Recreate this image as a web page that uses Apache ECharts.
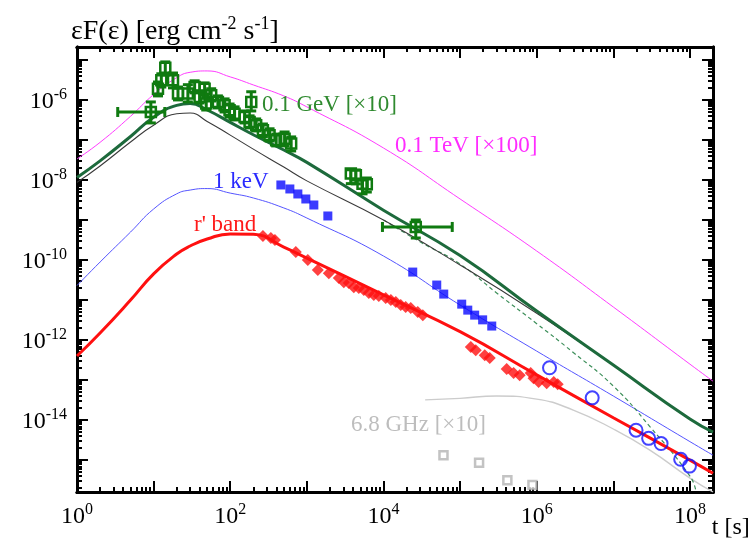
<!DOCTYPE html>
<html>
<head>
<meta charset="utf-8">
<script src="https://cdn.jsdelivr.net/npm/echarts@6/dist/echarts.min.js"></script>
<style>
  html, body { margin: 0; padding: 0; background: #fff; }
  #chart { width: 754px; height: 543px; }
</style>
</head>
<body>
<div id="chart"></div>
<script>
// ---- model light curves, t in seconds, flux in erg cm^-2 s^-1 ----
const modelT    = [1, 2, 5, 10, 20, 30, 50, 100, 200, 500, 1e3, 1e4, 1e5, 1e6, 1e7, 1e8, 2e8];
const tevModel  = [3.35e-8, 8.7e-8, 3.9e-7, 1.36e-6, 3.6e-6, 4.9e-6, 5.3e-6, 3.76e-6, 2.37e-6, 1.26e-6, 6.7e-7, 6.3e-8, 3.35e-9, 1.68e-10, 6.7e-12, 2.5e-13, 9.4e-14];
const gevModel  = [1.15e-8, 3.0e-8, 1.22e-7, 3.7e-7, 7.3e-7, 8.1e-7, 5.6e-7, 2.75e-7, 1.35e-7, 5.6e-8, 2.75e-8, 1.76e-9, 1.29e-10, 5.3e-12, 2.37e-13, 1.06e-14, 5.0e-15];
const gevBare   = [8.7e-9, 2.24e-8, 8.9e-8, 2.34e-7, 4.5e-7, 4.7e-7, 2.9e-7, 1.32e-7, 5.9e-8, 2.1e-8, 9.5e-9, 1.0e-9, 7.5e-11, 4.7e-12, 2.37e-13, 1.06e-14, 5.0e-15];
const kevModel  = [2.3e-11, 8.9e-11, 5.0e-10, 1.88e-9, 4.5e-9, 5.6e-9, 6.1e-9, 4.7e-9, 3.55e-9, 2.0e-9, 1.12e-9, 1.26e-10, 7.5e-12, 5.3e-13, 4.0e-14, 2.9e-15, 1.33e-15];
const optModel  = [4.0e-13, 1.5e-12, 1.0e-11, 4.5e-11, 1.41e-10, 2.24e-10, 3.35e-10, 4.5e-10, 4.4e-10, 2.1e-10, 1.12e-10, 1.35e-11, 1.62e-12, 1.35e-13, 1.15e-14, 1.0e-15, 4.7e-16];

// steeper GeV branch (dashed)
const gevSteepT = [1e4, 3e4, 1e5, 3e5, 1e6, 3e6, 1e7, 3e7, 1e8, 1.2e8];
const gevSteepF = [1.0e-9, 2.85e-10, 7.9e-11, 1.5e-11, 2.57e-12, 4.9e-13, 7.1e-14, 6.9e-15, 4.0e-16, 1.66e-16];

// radio model
const radioT = [3.5e4, 1e5, 3e5, 1e6, 3e6, 1e7, 3e7, 1e8, 2e8];
const radioF = [3.2e-14, 3.5e-14, 4.0e-14, 3.35e-14, 1.78e-14, 6.0e-15, 1.78e-15, 3.55e-16, 1.6e-16];

// ---- observed points ----
// 0.1 GeV: time, flux, lower, upper, time-lower, time-upper
const gevT  = [9.2, 14.2, 12.6, 11.4, 17.9, 20.8, 28, 34.3, 39.8, 46.3, 48.6, 56.4, 69, 84.4, 98, 114, 188, 154, 179, 218, 267, 326, 398, 512, 624, 3750, 4360, 5330, 6060, 2.64e4];
const gevF  = [5.0e-7, 6.4e-6, 3.1e-6, 1.9e-6, 3.1e-6, 1.45e-6, 1.45e-6, 2.1e-6, 1.19e-6, 1.9e-6, 8.1e-7, 1.3e-6, 8.9e-7, 7.4e-7, 5.5e-7, 4.5e-7, 8.9e-7, 3.76e-7, 2.8e-7, 2.34e-7, 1.75e-7, 1.31e-7, 9.8e-8, 1.07e-7, 8.1e-8, 1.45e-8, 1.32e-8, 8.1e-9, 7.8e-9, 6.7e-10];
const gevLo = [2.66e-7, 4.2e-6, 2.1e-6, 1.26e-6, 2.0e-6, 1.0e-6, 8.9e-7, 1.5e-6, 8.4e-7, 1.33e-6, 5.6e-7, 9.4e-7, 6.3e-7, 5.0e-7, 3.75e-7, 3.16e-7, 5.3e-7, 2.66e-7, 2.0e-7, 1.68e-7, 1.19e-7, 9.4e-8, 7.1e-8, 7.1e-8, 5.3e-8, 8.1e-9, 8.0e-9, 4.5e-9, 5.0e-9, 3.55e-10];
const gevHi = [8.9e-7, 8.9e-6, 4.5e-6, 2.8e-6, 4.7e-6, 2.1e-6, 2.4e-6, 3.0e-6, 1.7e-6, 2.66e-6, 1.19e-6, 1.9e-6, 1.26e-6, 1.06e-6, 7.9e-7, 6.7e-7, 1.6e-6, 5.3e-7, 4.0e-7, 3.35e-7, 2.5e-7, 1.9e-7, 1.4e-7, 1.58e-7, 1.19e-7, 1.8e-8, 1.78e-8, 1.0e-8, 1.12e-8, 1.0e-9];
const gevTLo = [3.4, 14.2, 12.6, 11.4, 17.9, 20.8, 28, 34.3, 39.8, 46.3, 48.6, 56.4, 69, 84.4, 98, 114, 188, 154, 179, 218, 267, 326, 398, 512, 624, 3750, 4360, 5330, 6060, 9700];
const gevTHi = [14, 14.2, 12.6, 11.4, 17.9, 20.8, 28, 34.3, 39.8, 46.3, 48.6, 56.4, 69, 84.4, 98, 114, 188, 154, 179, 218, 267, 326, 398, 512, 624, 3750, 4360, 5330, 6060, 7.9e4];

// 1 keV X-ray
const kevT = [458, 600, 763, 970, 1234, 1879, 2.41e4, 4.96e4, 6.12e4, 1.05e5, 1.26e5, 1.55e5, 1.97e5, 2.59e5];
const kevF = [7.5e-9, 5.96e-9, 4.47e-9, 3.35e-9, 2.37e-9, 1.26e-9, 5.0e-11, 2.37e-11, 1.41e-11, 7.9e-12, 5.6e-12, 4.2e-12, 3.2e-12, 2.24e-12];

// r' band optical
const optT = [267, 339, 383, 718, 1030, 1391, 1935, 2614, 3036, 3528, 4100, 4766, 5540, 6440, 7480, 8690, 1.07e4, 1.25e4, 1.45e4, 1.68e4, 1.95e4, 2.27e4, 2.8e4, 3.26e4, 1.38e5, 1.6e5, 2.1e5, 2.44e5, 4.06e5, 5.0e5, 6.0e5, 8.35e5, 9.1e5, 1.06e6, 1.35e6, 1.67e6, 1.88e6];
const optF = [4.0e-10, 3.55e-10, 3.16e-10, 1.58e-10, 1.0e-10, 5.6e-11, 4.7e-11, 3.55e-11, 2.8e-11, 2.66e-11, 2.1e-11, 2.0e-11, 1.78e-11, 1.5e-11, 1.33e-11, 1.26e-11, 1.12e-11, 1.0e-11, 8.9e-12, 7.5e-12, 6.7e-12, 6.3e-12, 5.0e-12, 4.2e-12, 6.7e-13, 5.6e-13, 4.2e-13, 3.55e-13, 1.88e-13, 1.5e-13, 1.33e-13, 1.5e-13, 1.12e-13, 8.9e-14, 8.4e-14, 8.9e-14, 7.9e-14];

// late optical (open circles)
const lateT = [1.47e6, 5.3e6, 1.98e7, 2.89e7, 4.2e7, 7.57e7, 9.86e7];
const lateF = [2.03e-13, 3.6e-14, 5.6e-15, 3.5e-15, 2.6e-15, 1.05e-15, 7.1e-16];

// 6.8 GHz radio
const radioPtT = [6.07e4, 1.77e5, 4.14e5, 8.8e5];
const radioPtF = [1.33e-15, 8.6e-16, 3.16e-16, 2.4e-16];

// ---- axes ----
const T_MIN = 1, T_MAX = 2e8;
const F_MIN = 1.6e-16, F_MAX = 2.1e-5;
const xMajor  = [1, 1e1, 1e2, 1e3, 1e4, 1e5, 1e6, 1e7, 1e8];
const xLabels = [1, 1e2, 1e4, 1e6, 1e8];
const yMajor  = [1e-15, 1e-14, 1e-13, 1e-12, 1e-11, 1e-10, 1e-9, 1e-8, 1e-7, 1e-6, 1e-5];
const yLabels = [1e-14, 1e-12, 1e-10, 1e-8, 1e-6];

function minorTicks(lo, hi, d0, d1) {
  const out = [];
  for (let d = d0; d <= d1; d++) {
    for (let k = 2; k <= 9; k++) {
      const v = k * Math.pow(10, d);
      if (v > lo && v < hi) out.push(v);
    }
  }
  return out;
}
const xMinor = minorTicks(T_MIN, T_MAX, 0, 8);
const yMinor = minorTicks(F_MIN, F_MAX, -16, -5);

const SERIF = 'Liberation Serif';
const pow10Label = v => '{b|10}{e|' + Math.round(Math.log10(v)) + '}';
const labelRich = {
  b: { fontFamily: SERIF, fontSize: 24, fontWeight: 'normal', color: '#000', verticalAlign: 'bottom', lineHeight: 26 },
  e: { fontFamily: SERIF, fontSize: 16, fontWeight: 'normal', color: '#000', verticalAlign: 'bottom', padding: [0, 0, 11, 0] }
};

function makeAxis(kind, pos, ticks, len, labels, extra) {
  const isX = kind === 'x';
  return Object.assign({
    type: 'log',
    logBase: 10,
    position: pos,
    min: isX ? T_MIN : F_MIN,
    max: isX ? T_MAX : F_MAX,
    axisLine: { show: true, onZero: false, lineStyle: { color: '#000', width: 3 } },
    axisTick: { show: true, inside: true, length: len, customValues: ticks,
                lineStyle: { color: '#000', width: 2 } },
    axisLabel: labels
      ? { show: true, customValues: labels, formatter: pow10Label, margin: 10,
          fontFamily: SERIF, fontSize: 24, color: '#000', rich: labelRich }
      : { show: false },
    minorTick: { show: false },
    splitLine: { show: false },
    splitArea: { show: false }
  }, extra || {});
}

const xAxes = [
  makeAxis('x', 'bottom', xMajor, 11, xLabels, {
    name: 't [s]', nameLocation: 'end', nameGap: -5,
    nameTextStyle: { fontFamily: SERIF, fontSize: 24, color: '#000', align: 'left',
                     verticalAlign: 'top', padding: [24, 0, 0, 0] }
  }),
  makeAxis('x', 'bottom', xMinor, 5, null),
  makeAxis('x', 'top', xMajor, 11, null),
  makeAxis('x', 'top', xMinor, 5, null)
];
const yAxes = [
  makeAxis('y', 'left', yMajor, 11, yLabels),
  makeAxis('y', 'left', yMinor, 5, null),
  makeAxis('y', 'right', yMajor, 11, null),
  makeAxis('y', 'right', yMinor, 5, null)
];

const zip = (a, b) => a.map((v, i) => [v, b[i]]);

function modelLine(name, ts, fs, color, width, extra) {
  return Object.assign({
    name, type: 'line', data: zip(ts, fs), showSymbol: false, symbol: 'none',
    smooth: 0.5, clip: true, silent: true,
    lineStyle: { color, width }, z: 2
  }, extra || {});
}

const GEV_PT = '#0f7a10';

const option = {
  animation: false,
  backgroundColor: '#fff',
  grid: { left: 77, right: 41, top: 47, bottom: 51, containLabel: false },
  title: {
    left: 66, top: 10,
    text: '{a|εF(ε) [erg cm}{s|-2}{a| s}{s|-1}{a|]}',
    textStyle: {
      fontFamily: SERIF, fontWeight: 'normal', fontSize: 28, color: '#000',
      rich: {
        a: { fontFamily: SERIF, fontWeight: 'normal', fontSize: 28, color: '#000', verticalAlign: 'bottom', lineHeight: 30 },
        s: { fontFamily: SERIF, fontWeight: 'normal', fontSize: 18, color: '#000', verticalAlign: 'bottom', padding: [0, 0, 13, 0] }
      }
    }
  },
  xAxis: xAxes,
  yAxis: yAxes,
  series: [
    modelLine('0.1 TeV [×100]', modelT, tevModel, '#ff3cff', 1),
    modelLine('1 keV model', modelT, kevModel, '#5555ff', 1),
    modelLine('6.8 GHz model', radioT, radioF, '#cccccc', 1.4),
    modelLine('GeV steep', gevSteepT, gevSteepF, '#3d8f5a', 1, { lineStyle: { color: '#3d8f5a', width: 1.2, type: [4, 3] } }),
    modelLine('GeV bare', modelT, gevBare, '#3a3a3a', 1.1),
    modelLine('0.1 GeV [×10]', modelT, gevModel, '#1d6a3c', 3),
    modelLine("r' band model", modelT, optModel, '#ff1010', 3),
    {
      name: 'r\' band', type: 'scatter', data: zip(optT, optF),
      symbol: 'diamond', symbolSize: 12, itemStyle: { color: '#ff1010' }, z: 4
    },
    {
      name: '1 keV', type: 'scatter', data: zip(kevT, kevF),
      symbol: 'rect', symbolSize: 9, itemStyle: { color: '#0a0aff' }, z: 4
    },
    {
      name: 'late optical', type: 'scatter', data: zip(lateT, lateF),
      symbol: 'circle', symbolSize: 13,
      itemStyle: { color: 'rgba(255,255,255,0)', borderColor: '#1414ff', borderWidth: 2 }, z: 5
    },
    {
      name: '6.8 GHz', type: 'scatter', data: zip(radioPtT, radioPtF),
      symbol: 'rect', symbolSize: 8,
      itemStyle: { color: '#fff', borderColor: '#b4b4b4', borderWidth: 2.5 }, z: 4
    },
    {
      name: '0.1 GeV', type: 'custom', z: 6,
      data: gevT.map((t, i) => [t, gevF[i], gevLo[i], gevHi[i], gevTLo[i], gevTHi[i]]),
      encode: { x: 0, y: 1 },
      renderItem(params, api) {
        const t = api.value(0), f = api.value(1);
        const c = api.coord([t, f]);
        const lo = api.coord([t, api.value(2)]);
        const hi = api.coord([t, api.value(3)]);
        const st = { stroke: GEV_PT, lineWidth: 3, fill: null };
        const cap = 5;
        const kids = [
          { type: 'line', shape: { x1: c[0], y1: lo[1], x2: c[0], y2: hi[1] }, style: st },
          { type: 'line', shape: { x1: c[0] - cap, y1: lo[1], x2: c[0] + cap, y2: lo[1] }, style: st },
          { type: 'line', shape: { x1: c[0] - cap, y1: hi[1], x2: c[0] + cap, y2: hi[1] }, style: st },
          { type: 'rect', shape: { x: c[0] - 5, y: c[1] - 5, width: 10, height: 10 },
            style: { stroke: GEV_PT, lineWidth: 2.5, fill: null } }
        ];
        const tl = api.value(4), th = api.value(5);
        if (tl < t || th > t) {
          const a = api.coord([tl, f]), b = api.coord([th, f]);
          kids.push(
            { type: 'line', shape: { x1: a[0], y1: c[1], x2: b[0], y2: c[1] }, style: st },
            { type: 'line', shape: { x1: a[0], y1: c[1] - cap, x2: a[0], y2: c[1] + cap }, style: st },
            { type: 'line', shape: { x1: b[0], y1: c[1] - cap, x2: b[0], y2: c[1] + cap }, style: st }
          );
        }
        return { type: 'group', children: kids };
      }
    }
  ],
  graphic: [
    { type: 'text', left: 262, top: 93, z: 10,
      style: { text: '0.1 GeV [×10]', font: '23px ' + SERIF, fill: '#2f8a2f' } },
    { type: 'text', left: 395, top: 134, z: 10,
      style: { text: '0.1 TeV [×100]', font: '23px ' + SERIF, fill: '#ff2cff' } },
    { type: 'text', left: 213, top: 170, z: 10,
      style: { text: '1 keV', font: '23px ' + SERIF, fill: '#2a2aff' } },
    { type: 'text', left: 194, top: 213, z: 10,
      style: { text: "r' band", font: '23px ' + SERIF, fill: '#ff1a1a' } },
    { type: 'text', left: 351, top: 413, z: 10,
      style: { text: '6.8 GHz [×10]', font: '23px ' + SERIF, fill: '#bdbdbd' } }
  ]
};

const chart = echarts.init(document.getElementById('chart'), null, { renderer: 'canvas' });
chart.setOption(option);
</script>
</body>
</html>
